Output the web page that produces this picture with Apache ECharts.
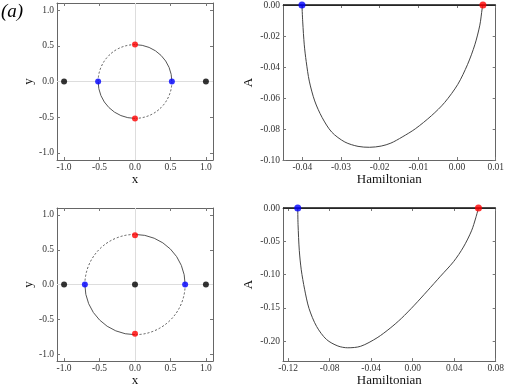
<!DOCTYPE html>
<html><head><meta charset="utf-8">
<script src="https://cdn.jsdelivr.net/npm/echarts@6/dist/echarts.min.js"></script>
<style>html,body{margin:0;padding:0;background:#fff}#c{width:507px;height:388px}</style>
</head><body><div id="c"></div>
<script>
// ---- data ----
const circleTicks = [-1.0, -0.5, 0.0, 0.5, 1.0];
const topRTicksX = [-0.04, -0.03, -0.02, -0.01, 0.00, 0.01];
const topRTicksY = [-0.10, -0.08, -0.06, -0.04, -0.02, 0.00];
const botRTicksX = [-0.12, -0.08, -0.04, 0.00, 0.04, 0.08];
const botRTicksY = [-0.20, -0.15, -0.10, -0.05, 0.00];

const topRadius = 0.52;
const bottomRadius = 0.707;
const solidArcs = [[0, 90], [180, 270]];
const dashedArcs = [[90, 180], [270, 360]];

const topRed = [[0, 0.52], [0, -0.52]];
const topBlue = [[-0.52, 0], [0.52, 0]];
const topBlack = [[-1, 0], [1, 0]];
const botRed = [[0, 0.707], [0, -0.707]];
const botBlue = [[-0.707, 0], [0.707, 0]];
const botBlack = [[-1, 0], [0, 0], [1, 0]];

const topCurveH = [-0.0401, -0.0399, -0.0395, -0.0390, -0.0382, -0.0368, -0.0349, -0.0324, -0.0290, -0.0256, -0.0226, -0.0196, -0.0171, -0.0142, -0.0108, -0.0066, -0.0032, 0.0002, 0.0027, 0.0046, 0.0059, 0.0065, 0.0067];
const topCurveA = [0, -0.0109, -0.0257, -0.0364, -0.0491, -0.0619, -0.0725, -0.0820, -0.0884, -0.0912, -0.0918, -0.0910, -0.0891, -0.0852, -0.0799, -0.0714, -0.0629, -0.0512, -0.0385, -0.0257, -0.0130, -0.0024, 0];
const botCurveH = [-0.1108, -0.1105, -0.1093, -0.1074, -0.1042, -0.0999, -0.0926, -0.0831, -0.0721, -0.0626, -0.0501, -0.0343, -0.0217, -0.0110, 0.0016, 0.0142, 0.0268, 0.0394, 0.0489, 0.0567, 0.0608, 0.0634];
const botCurveA = [0, -0.0246, -0.0636, -0.0928, -0.122, -0.151, -0.178, -0.1975, -0.2073, -0.210, -0.2077, -0.195, -0.1805, -0.166, -0.146, -0.1245, -0.1025, -0.0806, -0.0587, -0.0343, -0.0148, 0];

// ---- chart ----
const FONT = "'Liberation Serif', 'DejaVu Serif', serif";
const zip = (a, b) => a.map((v, i) => [v, b[i]]);

const grids = [
  {left: 57, top: 3, width: 156, height: 157},
  {left: 283, top: 3, width: 215, height: 157},
  {left: 57, top: 208, width: 156, height: 156},
  {left: 283, top: 208, width: 215, height: 157}
];
const ranges = [
  {x: [-1.1, 1.1], y: [-1.1, 1.1], tx: circleTicks, ty: circleTicks, dx: 1, dy: 1, nx: 'x', ny: 'y', gy: 22},
  {x: [-0.045, 0.01], y: [-0.1, 0], tx: topRTicksX, ty: topRTicksY, dx: 2, dy: 2, nx: 'Hamiltonian', ny: 'A', gy: 28},
  {x: [-1.1, 1.1], y: [-1.1, 1.1], tx: circleTicks, ty: circleTicks, dx: 1, dy: 1, nx: 'x', ny: 'y', gy: 22},
  {x: [-0.125, 0.08], y: [-0.23, 0], tx: botRTicksX, ty: botRTicksY, dx: 2, dy: 2, nx: 'Hamiltonian', ny: 'A', gy: 28}
];

const labelStyle = {fontFamily: FONT, fontSize: 9.5, color: '#333'};
const xAxes = [], yAxes = [];
ranges.forEach((r, g) => {
  const common = {type: 'value', gridIndex: g, splitLine: {show: false},
    axisLine: {show: true, onZero: false, lineStyle: {color: '#666', width: 1}}};
  xAxes.push(Object.assign({}, common, {
    position: 'bottom', min: r.x[0], max: r.x[1],
    name: r.nx, nameLocation: 'middle', nameGap: 12,
    nameTextStyle: {fontFamily: FONT, fontSize: 13, color: '#111'},
    axisTick: {inside: true, length: 3, customValues: r.tx, lineStyle: {color: '#777'}},
    axisLabel: Object.assign({customValues: r.tx, margin: 2, formatter: v => v.toFixed(r.dx)}, labelStyle)
  }));
  xAxes.push(Object.assign({}, common, {
    position: 'top', min: r.x[0], max: r.x[1],
    axisTick: {inside: true, length: 3, customValues: r.tx, lineStyle: {color: '#777'}},
    axisLabel: {show: false}
  }));
  yAxes.push(Object.assign({}, common, {
    position: 'left', min: r.y[0], max: r.y[1],
    name: r.ny, nameLocation: 'middle', nameGap: r.gy,
    nameTextStyle: {fontFamily: FONT, fontSize: 13, color: '#111'},
    axisTick: {inside: true, length: 3, customValues: r.ty, lineStyle: {color: '#777'}},
    axisLabel: Object.assign({customValues: r.ty, margin: 3, formatter: v => v.toFixed(r.dy)}, labelStyle)
  }));
  yAxes.push(Object.assign({}, common, {
    position: 'right', min: r.y[0], max: r.y[1],
    axisTick: {inside: true, length: 3, customValues: r.ty, lineStyle: {color: '#777'}},
    axisLabel: {show: false}
  }));
});

function arcSeries(g, radius, arcs, dashed) {
  return {
    type: 'custom', xAxisIndex: 2 * g, yAxisIndex: 2 * g, z: 3, silent: true,
    data: arcs.map(a => [0, 0, radius, a[0], a[1]]),
    renderItem: (params, api) => {
      const c = api.coord([api.value(0), api.value(1)]);
      const r = api.size([api.value(2), 0])[0];
      return {
        type: 'arc',
        shape: {cx: c[0], cy: c[1], r: r,
          startAngle: -api.value(4) * Math.PI / 180,
          endAngle: -api.value(3) * Math.PI / 180, clockwise: true},
        style: {stroke: '#555', fill: null, lineWidth: 1, lineDash: dashed ? [2, 2] : null}
      };
    }
  };
}
function pts(g, data, color, size) {
  return {type: 'scatter', xAxisIndex: 2 * g, yAxisIndex: 2 * g, z: 5, silent: true,
    symbolSize: size, itemStyle: {color: color}, data: data};
}
function centerLines(g) {
  return {type: 'line', xAxisIndex: 2 * g, yAxisIndex: 2 * g, data: [], z: 1, silent: true,
    markLine: {silent: true, symbol: 'none', label: {show: false},
      lineStyle: {color: '#ddd', width: 1, type: 'solid'},
      data: [{xAxis: 0}, {yAxis: 0}]}};
}
function curve(g, h, a) {
  const d = zip(h, a);
  return [
    {type: 'line', xAxisIndex: 2 * g, yAxisIndex: 2 * g, data: d, smooth: 0.3, showSymbol: false,
      z: 3, silent: true, lineStyle: {color: '#444', width: 1},
      markLine: {silent: true, symbol: 'none', label: {show: false},
        lineStyle: {color: '#111', width: 1.5, type: 'solid'}, data: [{yAxis: 0}]}},
    pts(g, [d[0]], '#0000ff', 7),
    pts(g, [d[d.length - 1]], '#ff0000', 7)
  ];
}

const series = [
  centerLines(0),
  arcSeries(0, topRadius, solidArcs, false),
  arcSeries(0, topRadius, dashedArcs, true),
  pts(0, topRed, '#ff0000', 6), pts(0, topBlue, '#0000ff', 6), pts(0, topBlack, '#000000', 6),
  ...curve(1, topCurveH, topCurveA),
  centerLines(2),
  arcSeries(2, bottomRadius, solidArcs, false),
  arcSeries(2, bottomRadius, dashedArcs, true),
  pts(2, botRed, '#ff0000', 6), pts(2, botBlue, '#0000ff', 6), pts(2, botBlack, '#000000', 6),
  ...curve(3, botCurveH, botCurveA)
];

const chart = echarts.init(document.getElementById('c'), null, {renderer: 'canvas'});
chart.setOption({
  animation: false,
  backgroundColor: '#fff',
  textStyle: {fontFamily: FONT},
  grid: grids,
  xAxis: xAxes,
  yAxis: yAxes,
  graphic: [{type: 'text', left: 1, top: 2,
    style: {text: '(a)', fontFamily: FONT, fontStyle: 'italic', fontSize: 19, fill: '#000'}}],
  series: series
});
</script></body></html>
